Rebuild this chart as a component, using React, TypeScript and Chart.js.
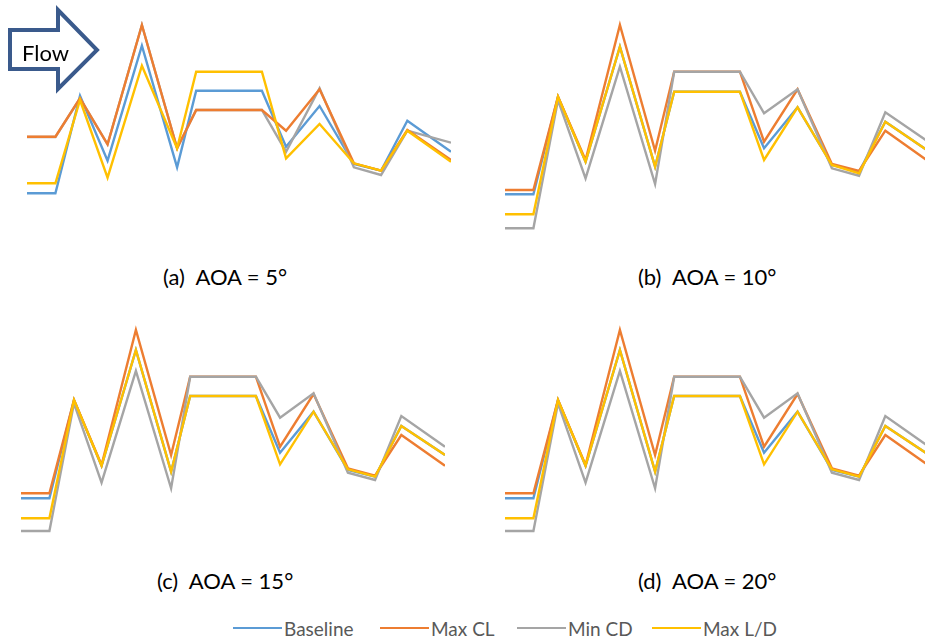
import React, { useEffect, useRef } from "react";
import { Chart, registerables } from "chart.js";

Chart.register(...registerables);

// chordwise stations (fraction of panel width)
const stations = [0, 0.067, 0.125, 0.19, 0.271, 0.354, 0.399, 0.554, 0.611, 0.69, 0.771, 0.835, 0.897, 1.0];

const seriesNames = ["Baseline", "Max CL", "Min CD", "Max L/D"];
const seriesColors = ["#5B9BD5", "#ED7D31", "#A5A5A5", "#FFC000"];

// (a) AOA = 5°
const a5Baseline = [46.7, 46.7, 144.3, 79.3, 194.3, 72.7, 149.3, 149.3, 93.3, 134, 76, 69.3, 119.3, 88.3];
const a5MaxCL = [103.3, 103.3, 141.7, 95.7, 215, 91.7, 130, 130, 109.3, 150.7, 76.7, 69.3, 110, 80];
const a5MinCD = [103, 103, 141.7, 95.7, 215, 91.7, 130, 130, 88.3, 151.7, 72.7, 65, 109.3, 97.3];
const a5MaxLD = [56.7, 56.7, 140, 62.3, 174.3, 91.7, 168.3, 168.3, 81.7, 116, 76.7, 69.3, 109.3, 78.3];

// (b) AOA = 10°
const a10Baseline = [45.7, 45.7, 143.3, 78.3, 193.3, 73.3, 148.3, 148.3, 91.7, 132.7, 75, 68.3, 118.3, 88.5];
const a10MaxCL = [50, 50, 143.3, 80, 215, 89.3, 168.3, 168.3, 98.3, 150.7, 76, 69, 109.3, 78.3];
const a10MinCD = [11.7, 11.7, 140, 61.7, 173.3, 56, 168.3, 168.3, 126.7, 150.7, 71.7, 64.3, 127.7, 97.7];
const a10MaxLD = [25.7, 25.7, 143.3, 78.3, 193.3, 73.3, 148.3, 148.3, 80, 132.7, 75, 66.7, 118.3, 88.5];

// (c) AOA = 15°
const a15Baseline = [51.7, 51.7, 150, 84, 200, 78.3, 154, 154, 97.3, 138.3, 80, 73.3, 124, 95];
const a15MaxCL = [56.7, 56.7, 150, 85, 220, 95, 173.3, 173.3, 103.3, 156, 81.7, 74.3, 115, 84.3];
const a15MinCD = [19, 19, 146.7, 67.3, 179, 61.7, 173.3, 173.3, 132.3, 156.7, 77.3, 70, 134, 103.3];
const a15MaxLD = [31.7, 31.7, 150, 84.3, 200, 78.3, 154, 154, 85.7, 138.3, 80.7, 73.3, 124, 95];

// (d) AOA = 20°
const a20Baseline = [51.7, 51.7, 150, 84, 200, 78.3, 154, 154, 97.3, 138.3, 80, 73.3, 124, 95];
const a20MaxCL = [56.7, 56.7, 150, 85, 220, 95, 173.3, 173.3, 103.3, 156, 81.7, 74.3, 115, 84.3];
const a20MinCD = [19, 19, 146.7, 67.3, 179, 61.7, 173.3, 173.3, 132.3, 156.7, 77.3, 70, 134, 103.3];
const a20MaxLD = [31.7, 31.7, 150, 84.3, 200, 78.3, 154, 154, 85.7, 138.3, 80.7, 73.3, 124, 95];

const captions = ["(a)  AOA = 5°", "(b)  AOA = 10°", "(c)  AOA = 15°", "(d)  AOA = 20°"];

const FONT = "Lato, 'Open Sans', sans-serif";

// drawOrder: index of series from bottom to top
function LinePanel(props: {
  left: number;
  top: number;
  width: number;
  height: number;
  series: number[][];
  drawOrder: number[];
}) {
  const ref = useRef<HTMLCanvasElement | null>(null);
  useEffect(() => {
    if (!ref.current) return;
    const chart = new Chart(ref.current, {
      type: "line",
      data: {
        datasets: props.series.map((vals, i) => ({
          label: seriesNames[i],
          data: vals.map((v, j) => ({ x: stations[j], y: v })),
          borderColor: seriesColors[i],
          backgroundColor: seriesColors[i],
          borderWidth: 2.4,
          pointRadius: 0,
          tension: 0,
          order: 10 - props.drawOrder.indexOf(i),
        })),
      },
      options: {
        animation: false,
        responsive: false,
        maintainAspectRatio: false,
        layout: { padding: 0, autoPadding: false },
        plugins: { legend: { display: false }, tooltip: { enabled: false } },
        scales: {
          x: { type: "linear", min: 0, max: 1, display: false },
          y: { type: "linear", min: 0, max: 240, display: false },
        },
      },
    } as any);
    return () => chart.destroy();
  }, []);
  return (
    <canvas
      ref={ref}
      width={props.width}
      height={props.height}
      style={{ position: "absolute", left: props.left, top: props.top, width: props.width, height: props.height }}
    />
  );
}

function Caption(props: { left: number; top: number; text: string }) {
  return (
    <div
      style={{
        position: "absolute",
        left: props.left,
        top: props.top,
        fontFamily: FONT,
        fontSize: 22,
        color: "#000",
        whiteSpace: "pre",
        lineHeight: "26px",
      }}
    >
      {props.text}
    </div>
  );
}

const legendLineX = [233, 380, 517, 652];

export default function App() {
  return (
    <div
      style={{
        position: "fixed",
        left: 0,
        top: 0,
        width: 925,
        height: 638,
        overflow: "hidden",
        background: "#fff",
      }}
    >
      <LinePanel left={27} top={0} width={424} height={240} drawOrder={[0, 2, 1, 3]} series={[a5Baseline, a5MaxCL, a5MinCD, a5MaxLD]} />
      <LinePanel left={505} top={0} width={424} height={240} drawOrder={[0, 1, 2, 3]} series={[a10Baseline, a10MaxCL, a10MinCD, a10MaxLD]} />
      <LinePanel left={21} top={310} width={424} height={240} drawOrder={[0, 1, 2, 3]} series={[a15Baseline, a15MaxCL, a15MinCD, a15MaxLD]} />
      <LinePanel left={505} top={310} width={424} height={240} drawOrder={[0, 1, 2, 3]} series={[a20Baseline, a20MaxCL, a20MinCD, a20MaxLD]} />

      <Caption left={163} top={264} text={captions[0]} />
      <Caption left={638} top={264} text={captions[1]} />
      <Caption left={157} top={568} text={captions[2]} />
      <Caption left={638} top={568} text={captions[3]} />

      <svg width={110} height={100} style={{ position: "absolute", left: 0, top: 0 }}>
        <polygon
          points="10,30 58,30 58,10 97,50 58,89 58,69 10,69"
          fill="#fff"
          stroke="#3A5A8C"
          strokeWidth={4}
          strokeLinejoin="miter"
        />
        <text x={22} y={61} fontFamily="Lato, 'Open Sans', sans-serif" fontSize={22} fill="#000">
          Flow
        </text>
      </svg>

      {seriesNames.map((n, i) => (
        <div
          key={n}
          style={{
            position: "absolute",
            left: legendLineX[i],
            top: 616,
            height: 24,
            display: "flex",
            alignItems: "center",
            fontFamily: FONT,
            fontSize: 19,
            color: "#595959",
            whiteSpace: "nowrap",
          }}
        >
          <span style={{ display: "inline-block", width: 49, height: 2.5, background: seriesColors[i], marginRight: 2 }} />
          <span>{n}</span>
        </div>
      ))}
    </div>
  );
}
